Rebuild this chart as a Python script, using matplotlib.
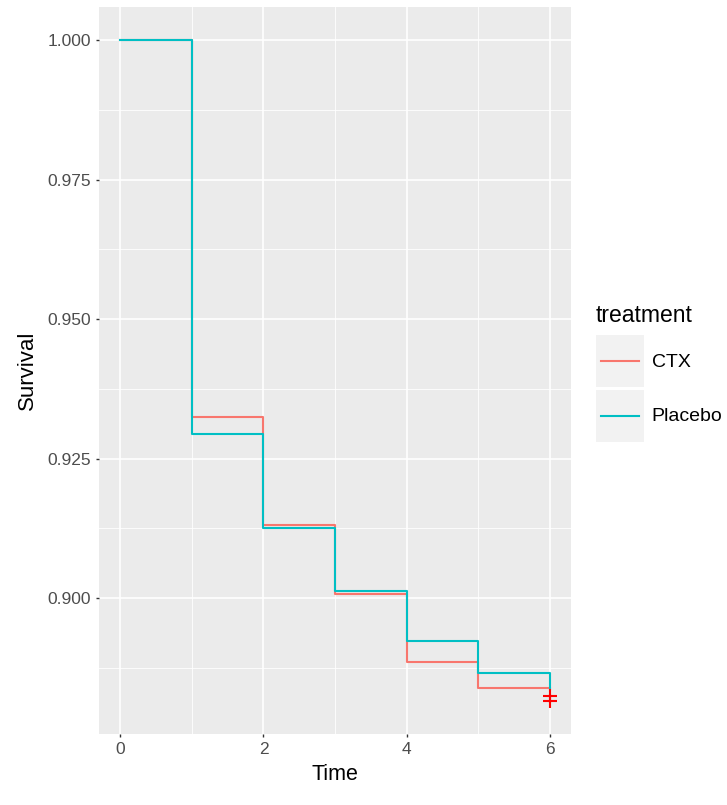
import numpy as np
import matplotlib
matplotlib.use("Agg")
import matplotlib.pyplot as plt
from matplotlib.patches import Rectangle
from matplotlib.lines import Line2D
from matplotlib.ticker import MultipleLocator

# --- Data ---
times = [0, 1, 2, 3, 4, 5, 6]
surv_ctx = [1.0, 0.9324, 0.9131, 0.9008, 0.8885, 0.8839, 0.8839]
surv_placebo = [1.0, 0.9294, 0.9126, 0.9013, 0.8924, 0.8866, 0.8839]
censor_times = [6, 6]
censor_surv = [0.8825, 0.8816]
groups = ["CTX", "Placebo"]
x_ticks = [0, 2, 4, 6]
y_ticks = [0.900, 0.925, 0.950, 0.975, 1.000]

# --- Styling ---
COL_CTX = "#F8766D"
COL_PLA = "#00BFC4"
PANEL = "#EBEBEB"
KEY_BG = "#F2F2F2"
plt.rcParams["font.family"] = ["Liberation Sans", "DejaVu Sans"]


class KeyHandler:
    # ggplot-style legend key: grey square with a line through the middle
    def legend_artist(self, legend, orig_handle, fontsize, handlebox):
        x0, y0 = -handlebox.xdescent, -handlebox.ydescent
        w, h = handlebox.width, handlebox.height
        rect = Rectangle((x0, y0), w, h, facecolor=KEY_BG, edgecolor="none")
        ln = Line2D([x0 + 0.1 * w, x0 + 0.9 * w], [y0 + h / 2, y0 + h / 2],
                    color=orig_handle.get_color(), lw=1.5)
        handlebox.add_artist(rect)
        handlebox.add_artist(ln)
        return ln


fig = plt.figure(figsize=(7.27, 8.05), dpi=100)
ax = fig.add_axes([99 / 727, 1 - 734 / 805, (571 - 99) / 727, (734 - 7) / 805])
ax.set_facecolor(PANEL)
for s in ax.spines.values():
    s.set_visible(False)

l1, = ax.step(times, surv_ctx, where="post", color=COL_CTX, lw=1.5, zorder=3)
l2, = ax.step(times, surv_placebo, where="post", color=COL_PLA, lw=1.5, zorder=4)
ax.plot(censor_times, censor_surv, ls="none", marker="+", ms=10, mew=1.5,
        color="red", zorder=5)

# ggplot-like limits (5% expansion)
ymin = min(min(surv_ctx), min(surv_placebo), min(censor_surv))
ymax = 1.0
pad = (ymax - ymin) * 0.05
ax.set_ylim(ymin - pad, ymax + pad)
ax.set_xlim(-0.3, 6.3)

ax.set_xticks(x_ticks)
ax.set_yticks(y_ticks)
ax.set_yticklabels([f"{v:.3f}" for v in y_ticks])
ax.xaxis.set_minor_locator(MultipleLocator(1))
ax.yaxis.set_minor_locator(MultipleLocator(0.0125))
ax.grid(which="major", color="white", lw=1.2)
ax.grid(which="minor", color="white", lw=0.6)
ax.set_axisbelow(True)
ax.tick_params(which="major", length=2.5, width=1, color="#333333",
               labelsize=12.5, labelcolor="#4D4D4D", pad=3)
ax.tick_params(which="minor", length=0)

ax.set_xlabel("Time", fontsize=15.5, labelpad=5)
ax.set_ylabel("Survival", fontsize=16, labelpad=7)

leg = fig.legend([l1, l2], groups, title="treatment", loc="upper left",
                 bbox_to_anchor=(596 / 727, 1 - 304 / 805), frameon=False,
                 fontsize=14, title_fontsize=16.5, handleheight=3.73,
                 handlelength=2.47, labelspacing=0.15, handletextpad=0.4,
                 borderpad=0, borderaxespad=0, alignment="left",
                 handler_map={Line2D: KeyHandler()})
leg._legend_box.sep = 6  # gap between title and keys (points)

fig.savefig("out.png", dpi=100)
